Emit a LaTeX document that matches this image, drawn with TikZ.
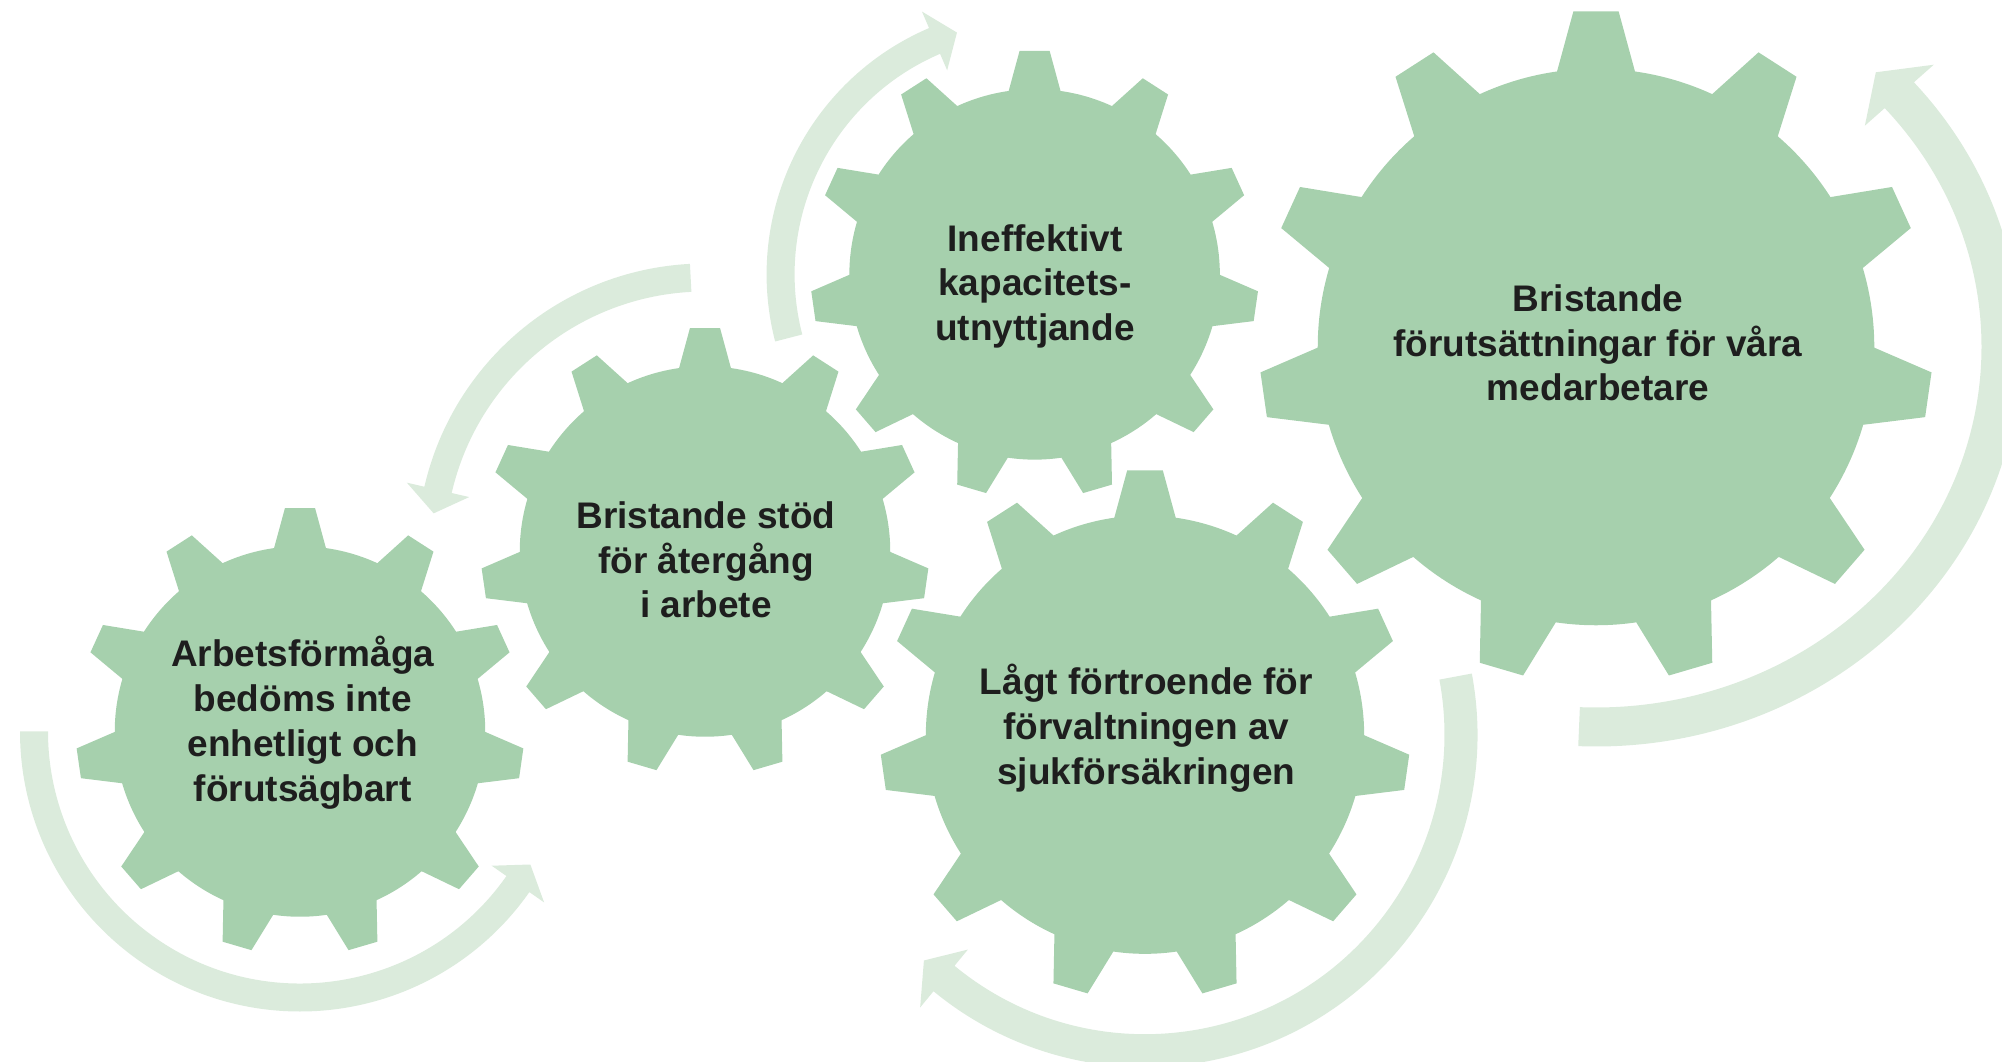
\documentclass[tikz,border=0pt]{standalone}
\usepackage{fontspec}
\setmainfont{Liberation Sans}
\definecolor{gearGreen}{RGB}{166,208,173}
\definecolor{arrowGreen}{RGB}{219,235,220}
\definecolor{textDark}{RGB}{30,30,30}

\begin{document}
\begin{tikzpicture}[x=0.5pt, y=0.5pt,
    gear/.style={fill=gearGreen},
    cycarrow/.style={fill=arrowGreen},
    gtext/.style={align=center, text=textDark, font=\fontsize{18.5}{22.4}\selectfont\bfseries}]
        \useasboundingbox (0,0) rectangle (2002,1061);
        % Circular arrows behind the gears
        \foreach \cx/\cy/\rx/\ry/\w/\h/\s/\e/\t in {300/329.5/266/266/14/32/180/325/330,
                705/509.5/274/274/14/32/93/167/172,
                1034.6/786.6/254/254/14/32/194.5/113.2/107.8,
                1145/326.3/316/316/16.5/37.5/10.6/-129.5/-134.4,
                1596/714/405/380/19.5/46/-92.4/41.5/46.3} {
            \fill[cycarrow, shift={(\cx,\cy)}] ({\s}:{\rx+\w} and {\ry+\w})
                arc[start angle=\s, end angle=\e, x radius={\rx+\w}, y radius={\ry+\w}]
                -- ({\e}:{\rx+\h} and {\ry+\h}) -- ({\t}:{\rx} and {\ry})
                -- ({\e}:{\rx-\h} and {\ry-\h}) -- ({\e}:{\rx-\w} and {\ry-\w})
                arc[start angle=\e, end angle=\s, x radius={\rx-\w}, y radius={\ry-\w}] -- cycle;
        }
        % Gears, eleven teeth each
        \foreach \cx/\cy/\R in {300/329.5/224, 705/509.5/224, 1034.6/786.6/224, 1145/326.3/265, 1596/714/336.5} {
            \fill[gear, shift={(\cx,\cy)}] ({90-8.05}:{0.827*\R})
                \foreach \i in {0,...,10} {
                    -- ({90+\i*360/11-8.05}:{0.827*\R}) -- ({90+\i*360/11-3.85}:\R)
                    -- ({90+\i*360/11+3.85}:\R) -- ({90+\i*360/11+8.05}:{0.827*\R})
                    arc[start angle={90+\i*360/11+8.05}, end angle={90+(\i+1)*360/11-8.05}, radius={0.827*\R}]
                } -- cycle;
        }
        % Labels
        \node[gtext] (arbetsformaga) at (302.7,338.5) {Arbetsförmåga\\bedöms inte\\enhetligt och\\förutsägbart};
        \node[gtext] (stod) at (706,501.1) {Bristande stöd\\för återgång\\i arbete};
        \node[gtext] (kapacitet) at (1035,774.6) {Ineffektivt\\kapacitets-\\utnyttjande};
        \node[gtext] (fortroende) at (1146.3,332.8) {Lågt förtroende för\\förvaltningen av\\sjukförsäkringen};
        \node[gtext] (medarbetare) at (1598,718.2) {Bristande\\förutsättningar för våra\\medarbetare};
\end{tikzpicture}
\end{document}
